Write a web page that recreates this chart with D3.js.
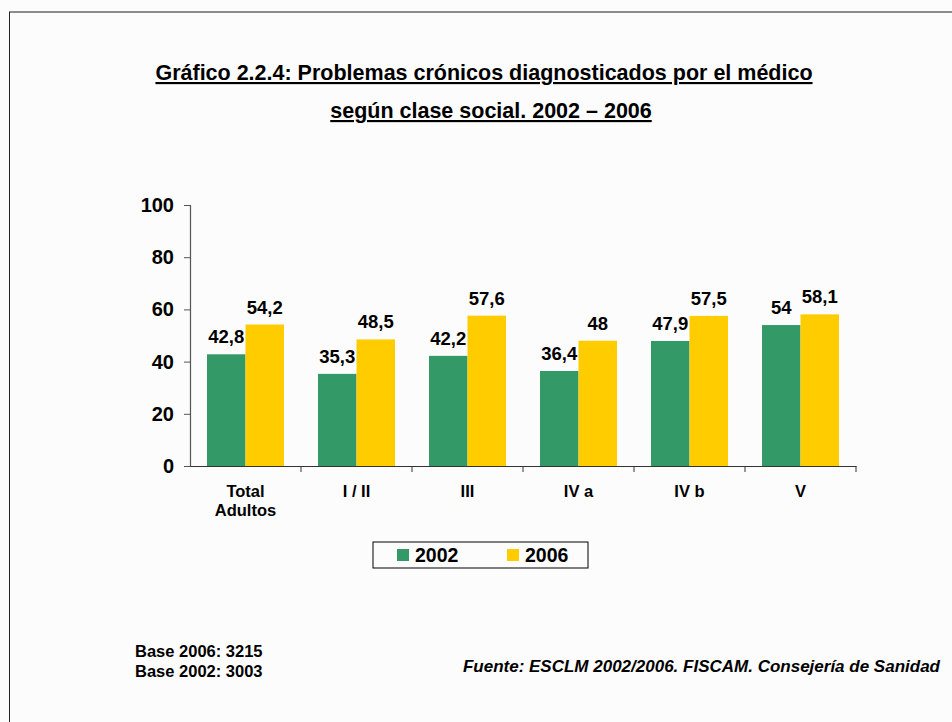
<!DOCTYPE html>
<html>
<head>
<meta charset="utf-8">
<script src="https://cdn.jsdelivr.net/npm/d3@7"></script>
<style>
  body { margin: 0; background: #fcfcfc; }
  svg { display: block; font-family: Arial, "Liberation Sans", sans-serif; }
</style>
</head>
<body>
<svg id="chart" width="952" height="722"></svg>
<script>
// data
var categories = ["Total|Adultos", "I / II", "III", "IV a", "IV b", "V"];
var series = ["2002", "2006"];
var values2002 = [42.8, 35.3, 42.2, 36.4, 47.9, 54];
var values2006 = [54.2, 48.5, 57.6, 48, 57.5, 58.1];
var yTicks = [0, 20, 40, 60, 80, 100];
var colors = ["#339966", "#ffcc00"];

var svg = d3.select("#chart");

// page frame (top and left edges only)
svg.append("line").attr("x1", 9).attr("x2", 952).attr("y1", 12).attr("y2", 12)
  .attr("stroke", "#8c8c8c").attr("stroke-width", 2);
svg.append("line").attr("x1", 9.5).attr("x2", 9.5).attr("y1", 12).attr("y2", 722)
  .attr("stroke", "#222").attr("stroke-width", 1);

// title
var title = svg.append("text")
  .attr("text-anchor", "middle")
  .style("font-weight", "bold").style("font-size", "21.5px")
  .style("text-decoration", "underline");
title.append("tspan").attr("x", 484).attr("y", 80)
  .text("Gráfico 2.2.4: Problemas crónicos diagnosticados por el médico");
title.append("tspan").attr("x", 491).attr("y", 118)
  .text("según clase social. 2002 – 2006");

var x0 = 190, x1 = 856, yTop = 205, yBot = 466;

var x = d3.scaleBand().domain(categories).range([x0, x1]);
var xs = d3.scaleBand().domain(series).range([0, 77]);
var y = d3.scaleLinear().domain([0, 100]).range([yBot, yTop]);

var rows = categories.map(function(c, i) {
  return { cat: c, vals: [values2002[i], values2006[i]] };
});

// bars
var groups = svg.selectAll("g.grp").data(rows).enter().append("g")
  .attr("class", "grp")
  .attr("transform", function(d) { return "translate(" + (x(d.cat) + (x.bandwidth() - 77) / 2) + ",0)"; });

groups.selectAll("rect").data(function(d) { return d.vals; }).enter().append("rect")
  .attr("x", function(d, i) { return xs(series[i]); })
  .attr("width", xs.bandwidth())
  .attr("y", function(d) { return y(d); })
  .attr("height", function(d) { return yBot - y(d); })
  .attr("fill", function(d, i) { return colors[i]; });

groups.selectAll("text").data(function(d) { return d.vals; }).enter().append("text")
  .attr("x", function(d, i) { return xs(series[i]) + xs.bandwidth() / 2; })
  .attr("y", function(d) { return y(d) - 11; })
  .attr("text-anchor", "middle")
  .style("font-weight", "bold").style("font-size", "18.5px")
  .text(function(d) { return String(d).replace(".", ","); });

// y axis
var yAxis = svg.append("g").attr("transform", "translate(" + x0 + ",0)")
  .call(d3.axisLeft(y).tickValues(yTicks).tickSize(6).tickPadding(10));
yAxis.select(".domain").attr("stroke", "#555").attr("stroke-width", 1.2);
yAxis.selectAll(".tick line").attr("stroke", "#555");
yAxis.selectAll(".tick text").attr("fill", "#000")
  .style("font-weight", "bold").style("font-size", "20px").style("font-family", "Arial, 'Liberation Sans', sans-serif");

// x axis
var xAxis = svg.append("g").attr("transform", "translate(0," + yBot + ")")
  .call(d3.axisBottom(x).tickSize(0).tickFormat(""));
xAxis.select(".domain").attr("stroke", "#333").attr("stroke-width", 1.2);
xAxis.selectAll("line.sep").data(categories).enter().append("line")
  .attr("class", "sep")
  .attr("x1", function(d) { return x(d) + x.bandwidth(); })
  .attr("x2", function(d) { return x(d) + x.bandwidth(); })
  .attr("y1", 0).attr("y2", 6).attr("stroke", "#333");

var catLabels = svg.selectAll("text.cat").data(categories).enter().append("text")
  .attr("class", "cat")
  .attr("text-anchor", "middle")
  .style("font-weight", "bold").style("font-size", "16.5px");
catLabels.each(function(d) {
  var lines = d.split("|");
  var t = d3.select(this);
  lines.forEach(function(l, k) {
    t.append("tspan").attr("x", x(d) + x.bandwidth() / 2).attr("y", 497 + k * 19).text(l);
  });
});

// legend
var leg = svg.append("g").attr("transform", "translate(373,542)");
leg.append("rect").attr("width", 215).attr("height", 26)
  .attr("fill", "#fcfcfc").attr("stroke", "#000").attr("stroke-width", 1);
series.forEach(function(s, i) {
  leg.append("rect").attr("x", 24 + i * 110).attr("y", 7).attr("width", 12).attr("height", 12)
    .attr("fill", colors[i]);
  leg.append("text").attr("x", 42 + i * 110).attr("y", 20)
    .style("font-weight", "bold").style("font-size", "19.5px").text(s);
});

// notes
svg.append("text").attr("x", 135).attr("y", 657)
  .style("font-weight", "bold").style("font-size", "16.5px").text("Base 2006: 3215");
svg.append("text").attr("x", 135).attr("y", 677)
  .style("font-weight", "bold").style("font-size", "16.5px").text("Base 2002: 3003");
svg.append("text").attr("x", 940).attr("y", 672).attr("text-anchor", "end")
  .style("font-weight", "bold").style("font-style", "italic").style("font-size", "17px")
  .text("Fuente: ESCLM 2002/2006. FISCAM. Consejería de Sanidad");
</script>
</body>
</html>
